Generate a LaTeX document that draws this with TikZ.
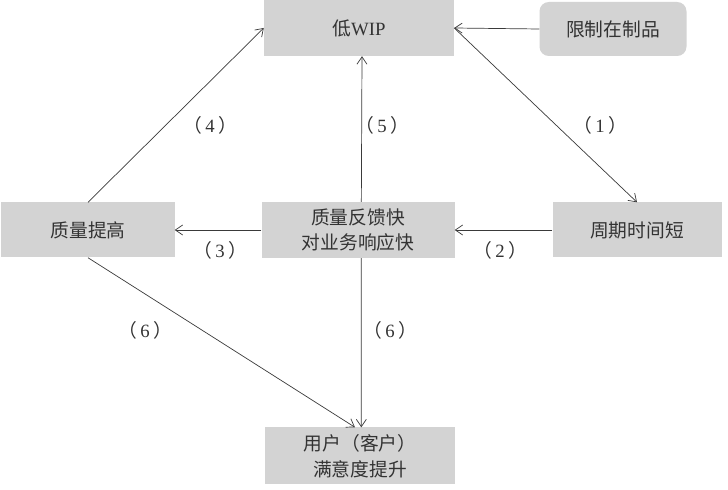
\documentclass[tikz,border=0pt]{standalone}
\usepackage{fontspec}
\setmainfont{Liberation Serif}
\newfontfamily\cjk{Noto Sans CJK SC}
\usetikzlibrary{arrows.meta,calc}
\definecolor{ink}{HTML}{333333}
\definecolor{wire}{HTML}{3A3A3A}
\definecolor{boxfill}{HTML}{D3D3D3}
\newcommand{\sixteen}{\fontsize{16}{22}\selectfont}
\newcommand{\numlab}[1]{{\cjk （}\kern.18em\textrm{#1}\kern.18em{\cjk ）}}
\tikzset{
 every node/.append style={font=\sixteen\cjk,text=ink,align=center},
 box/.style={fill=boxfill,draw=none,inner sep=2pt},
 softbox/.style={box,rounded corners=8pt},
 flow/.style={-{Straight Barb[length=2.2mm,width=3mm]},draw=wire,line width=.6pt},
 tag/.style={inner sep=1pt},
}

\begin{document}
\begin{tikzpicture}

\useasboundingbox (0,0) rectangle (21.84,-14.7);
\node[box,minimum width=5.7cm,minimum height=1.68cm] (wip) at (10.77,-.84) {低\textrm{WIP}};
\node[softbox,minimum width=4.41cm,minimum height=1.62cm] (limit) at (18.39,-.87) {限制在制品};
\node[box,minimum width=5.19cm,minimum height=1.65cm] (qual) at (2.64,-6.9) {质量提高};
\node[box,minimum width=5.79cm,minimum height=1.68cm] (fb) at (10.74,-6.9) {质量反馈快\\对业务响应快};
\node[box,minimum width=5.07cm,minimum height=1.65cm] (cycle) at (19.11,-6.9) {周期时间短};
\node[box,minimum width=5.7cm,minimum height=1.71cm] (user) at (10.8,-13.68) {用户（客户）\\满意度提升};
\draw[flow] (limit.west) -- (wip.east);
\draw[flow] (wip.east) -- (cycle.north);
\draw[flow] (cycle.west) -- (fb.east);
\draw[flow] (fb.west) -- (qual.east);
\draw[flow] (qual.north) -- (wip.west);
\draw[flow] ($(fb.north)+(.1,0)$) -- ($(wip.south)+(.09,0)$);
\draw[flow] ($(fb.south)+(.1,0)$) -- ($(user.north)+(.04,0)$);
\draw[flow] (qual.south) -- (user.100);
\node[tag] (t1) at (18,-3.75) {\numlab{1}};
\node[tag] (t2) at (15,-7.5) {\numlab{2}};
\node[tag] (t3) at (6.6,-7.5) {\numlab{3}};
\node[tag] (t4) at (6.3,-3.75) {\numlab{4}};
\node[tag] (t5) at (11.46,-3.75) {\numlab{5}};
\node[tag] (t6a) at (4.35,-9.9) {\numlab{6}};
\node[tag] (t6b) at (11.7,-9.9) {\numlab{6}};

\end{tikzpicture}
\end{document}
